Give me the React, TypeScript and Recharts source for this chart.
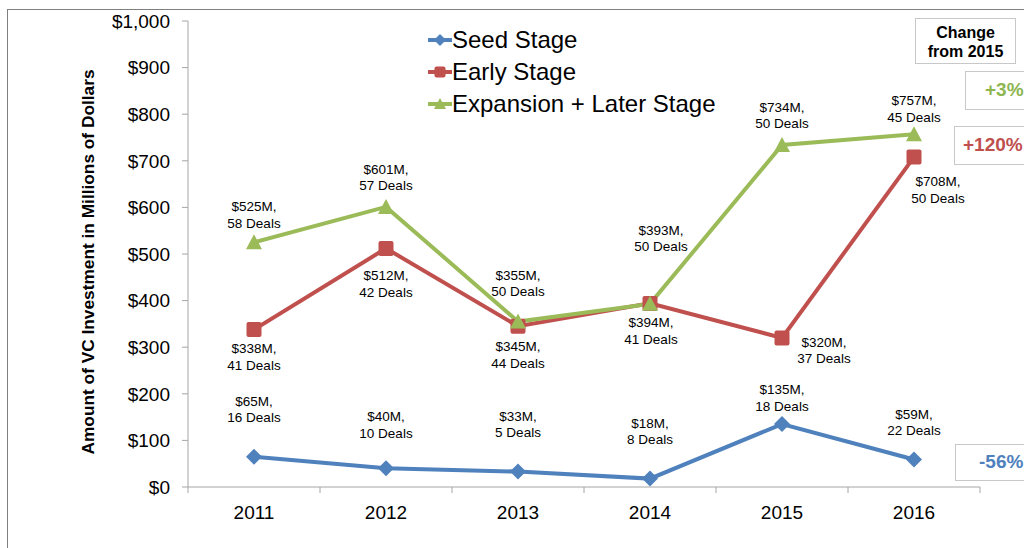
import { LineChart, Line, XAxis, YAxis } from 'recharts';

const years = ['2011', '2012', '2013', '2014', '2015', '2016'];
const seedValues = [65, 40, 33, 18, 135, 59];
const seedDeals = [16, 10, 5, 8, 18, 22];
const earlyValues = [338, 512, 345, 394, 320, 708];
const earlyDeals = [41, 42, 44, 41, 37, 50];
const expansionValues = [525, 601, 355, 393, 734, 757];
const expansionDeals = [58, 57, 50, 50, 50, 45];
const yTicks = [0, 100, 200, 300, 400, 500, 600, 700, 800, 900, 1000];

const changes = [
  { text: '+3%', color: '#8db650' },
  { text: '+120%', color: '#c0504d' },
  { text: '-56%', color: '#4f81bd' },
];

const BLUE = '#4f81bd';
const RED = '#c0504d';
const GREEN = '#9bbb59';
const FONT = '"Liberation Sans", Arial, sans-serif';

// label placement per point: [dx, dy of first line relative to marker]
const seedOffsets = [[0, -55], [0, -51], [0, -55], [0, -55], [0, -34], [0, -45]];
const earlyOffsets = [[0, 20], [0, 28], [0, 21], [1, 20], [42, 5], [24, 25]];
const expansionOffsets = [[0, -35], [0, -37], [0, -46], [11, -73], [0, -37], [0, -33]];

const data = years.map((year, i) => ({
  year,
  seed: seedValues[i],
  early: earlyValues[i],
  expansion: expansionValues[i],
}));

type Shape = 'diamond' | 'square' | 'triangle';

function marker(shape: Shape, cx: number, cy: number, color: string, s = 8) {
  if (shape === 'diamond') {
    return <path d={`M${cx},${cy - s} L${cx + s},${cy} L${cx},${cy + s} L${cx - s},${cy} Z`} fill={color} />;
  }
  if (shape === 'square') {
    return <rect x={cx - s + 0.5} y={cy - s + 0.5} width={s * 2 - 1} height={s * 2 - 1} rx={2} fill={color} />;
  }
  return <path d={`M${cx},${cy - s} L${cx + s},${cy + s - 1} L${cx - s},${cy + s - 1} Z`} fill={color} />;
}

const makeDot = (shape: Shape, color: string) => (props: any) => (
  <g key={`dot-${shape}-${props.index}`}>{marker(shape, props.cx, props.cy, color)}</g>
);

const makeLabel = (deals: number[], offsets: number[][]) => (props: any) => {
  const { x, y, index, value } = props;
  const [dx, dy] = offsets[index];
  return (
    <text
      key={`lbl-${index}-${value}`}
      x={x + dx}
      y={y + dy}
      textAnchor="middle"
      fontSize={13.5}
      fontFamily={FONT}
      fill="#000"
    >
      <tspan x={x + dx} dy={4}>{`$${value}M,`}</tspan>
      <tspan x={x + dx} dy={16.5}>{`${deals[index]} Deals`}</tspan>
    </text>
  );
};

const XTick = (props: any) => {
  const { x, y, payload, index } = props;
  const half = 66;
  return (
    <g>
      <line x1={x - half} y1={y - 8} x2={x - half} y2={y - 2} stroke="#a6a6a6" />
      {index === years.length - 1 && (
        <line x1={x + half} y1={y - 8} x2={x + half} y2={y - 2} stroke="#a6a6a6" />
      )}
      <text x={x} y={y + 24} textAnchor="middle" fontSize={19} fontFamily={FONT} fill="#000">
        {payload.value}
      </text>
    </g>
  );
};

const legendItems: { name: string; color: string; shape: Shape }[] = [
  { name: 'Seed Stage', color: BLUE, shape: 'diamond' },
  { name: 'Early Stage', color: RED, shape: 'square' },
  { name: 'Expansion + Later Stage', color: GREEN, shape: 'triangle' },
];

const boxStyle = {
  position: 'absolute' as const,
  border: '1px solid #c8c8c8',
  background: '#fff',
  fontFamily: FONT,
  fontWeight: 'bold' as const,
  boxSizing: 'border-box' as const,
};

export default function App() {
  return (
    <div style={{ position: 'absolute', left: 0, top: 0, width: 1024, height: 548, overflow: 'hidden', background: '#fff' }}>
      <div style={{ position: 'absolute', left: 7, top: 9, width: 1100, height: 600, borderLeft: '1px solid #7f7f7f', borderTop: '1px solid #7f7f7f' }} />
      <div style={{ position: 'absolute', left: 0, top: 0 }}>
        <LineChart width={1024} height={548} data={data} margin={{ top: 21, right: 44, bottom: 31, left: 0 }}>
          <XAxis
            dataKey="year"
            tick={<XTick />}
            tickLine={false}
            axisLine={{ stroke: '#a6a6a6' }}
            interval={0}
            padding={{ left: 66, right: 66 }}
          />
          <YAxis
            width={188}
            domain={[0, 1000]}
            ticks={yTicks}
            interval={0}
            tickSize={6}
            tickMargin={12}
            tickFormatter={(v: number) => `$${v.toLocaleString('en-US')}`}
            tick={{ fontSize: 19, fontFamily: FONT, fill: '#000' }}
            axisLine={{ stroke: '#a6a6a6' }}
            tickLine={{ stroke: '#a6a6a6' }}
            label={{
              value: 'Amount of VC Investment in Millions of Dollars',
              angle: -90,
              position: 'insideLeft',
              offset: 90,
              dx: -2,
              dy: 8,
              style: { fontSize: 17.3, fontWeight: 'bold', fontFamily: FONT, fill: '#000', textAnchor: 'middle' },
            }}
          />
          <Line
            dataKey="seed"
            stroke={BLUE}
            strokeWidth={4}
            dot={makeDot('diamond', BLUE)}
            label={makeLabel(seedDeals, seedOffsets)}
            isAnimationActive={false}
          />
          <Line
            dataKey="early"
            stroke={RED}
            strokeWidth={4}
            dot={makeDot('square', RED)}
            label={makeLabel(earlyDeals, earlyOffsets)}
            isAnimationActive={false}
          />
          <Line
            dataKey="expansion"
            stroke={GREEN}
            strokeWidth={4}
            dot={makeDot('triangle', GREEN)}
            label={makeLabel(expansionDeals, expansionOffsets)}
            isAnimationActive={false}
          />
        </LineChart>
      </div>
      <div style={{ position: 'absolute', left: 428, top: 24, fontFamily: FONT, fontSize: 24, color: '#000' }}>
        {legendItems.map((it) => (
          <div key={it.name} style={{ display: 'flex', alignItems: 'center', height: 32 }}>
            <svg width={24} height={20}>
              <line x1={0} y1={10} x2={24} y2={10} stroke={it.color} strokeWidth={4} />
              {marker(it.shape, 12, 10, it.color, 6)}
            </svg>
            <span>{it.name}</span>
          </div>
        ))}
      </div>
      <div style={{ ...boxStyle, left: 915, top: 18, width: 101, height: 46, fontSize: 16, textAlign: 'center', lineHeight: '19px', paddingTop: 4, color: '#000' }}>
        Change<br />from 2015
      </div>
      <div style={{ ...boxStyle, left: 965, top: 71, width: 80, height: 39, fontSize: 19, color: changes[0].color, paddingLeft: 19, lineHeight: '36px' }}>
        {changes[0].text}
      </div>
      <div style={{ ...boxStyle, left: 954, top: 126, width: 90, height: 39, fontSize: 19, color: changes[1].color, paddingLeft: 8, lineHeight: '36px' }}>
        {changes[1].text}
      </div>
      <div style={{ ...boxStyle, left: 955, top: 444, width: 90, height: 37, fontSize: 19, color: changes[2].color, paddingLeft: 23, lineHeight: '34px' }}>
        {changes[2].text}
      </div>
    </div>
  );
}
